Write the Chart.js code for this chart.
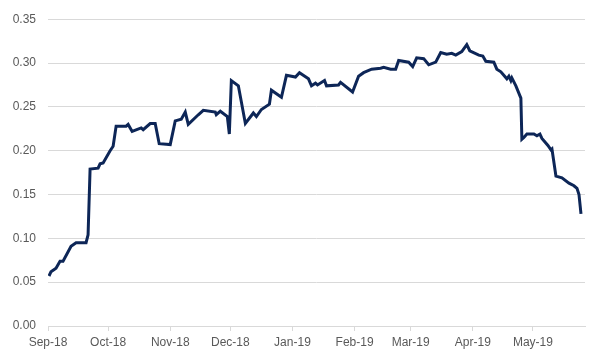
<!DOCTYPE html>
<html>
<head>
<meta charset="utf-8">
<script src="https://cdn.jsdelivr.net/npm/chart.js@4"></script>
<style>
  html, body { margin: 0; padding: 0; background: #fff; }
  #wrap { width: 600px; height: 360px; }
</style>
</head>
<body>
<div id="wrap"><canvas id="chart"></canvas></div>
<script>
// days since 1 Sep 2018
const days = [0.5, 1.5, 4, 6, 7.5, 11.5, 14, 19, 20, 21, 25, 26, 27.5, 31, 32.5, 34, 39, 40, 42, 46.5, 47.5, 51, 53.5, 55.5,
  61, 63.5, 66.5, 68.5, 70, 75, 77.5, 83.5, 84, 86, 89.5, 90.5, 91.5, 95, 98.5, 102.5, 104, 106.5, 110.5, 111.5, 116.5,
  119, 123.5, 125.5, 130, 131.5, 133.5, 134.5, 138, 139, 145, 146, 152, 155, 157.5, 161.5, 166, 167.5, 171, 173.5, 175,
  180, 182, 184, 187.5, 190, 193.5, 196, 199, 201.5, 203.5, 206.5, 209, 210.5, 215, 217, 218.5, 222.5, 224, 226, 229,
  230, 231, 231.5, 233.5, 236, 236.5, 237.5, 239, 242.5, 244, 245.5, 246.5, 249.5, 251, 251.5, 253.5, 256.5, 260, 262.5,
  264, 265, 266];
const values = [0.057, 0.062, 0.066, 0.074, 0.074, 0.091, 0.095, 0.095, 0.104, 0.179, 0.180, 0.185, 0.186, 0.200, 0.205,
  0.228, 0.228, 0.230, 0.222, 0.226, 0.224, 0.231, 0.231, 0.208, 0.207, 0.234, 0.236, 0.244, 0.230, 0.241, 0.246, 0.244,
  0.241, 0.245, 0.239, 0.219, 0.280, 0.274, 0.231, 0.243, 0.239, 0.247, 0.253, 0.269, 0.261, 0.286, 0.284, 0.289, 0.282,
  0.274, 0.277, 0.275, 0.280, 0.274, 0.275, 0.278, 0.267, 0.285, 0.289, 0.293, 0.294, 0.295, 0.293, 0.293, 0.303, 0.301,
  0.296, 0.306, 0.305, 0.298, 0.301, 0.312, 0.310, 0.311, 0.309, 0.313, 0.321, 0.314, 0.309, 0.308, 0.302, 0.301, 0.293,
  0.290, 0.282, 0.285, 0.280, 0.283, 0.274, 0.260, 0.213, 0.215, 0.219, 0.219, 0.217, 0.219, 0.214, 0.206, 0.201, 0.202,
  0.171, 0.169, 0.163, 0.160, 0.157, 0.150, 0.128];

const monthDays = [0, 30, 61, 91, 122, 153, 181, 212, 242];
const monthLabels = ['Sep-18', 'Oct-18', 'Nov-18', 'Dec-18', 'Jan-19', 'Feb-19', 'Mar-19', 'Apr-19', 'May-19'];

const points = days.map((d, i) => ({ x: d, y: values[i] }));

const ctx = document.getElementById('chart').getContext('2d');
const chart = new Chart(ctx, {
  type: 'line',
  data: {
    datasets: [{
      data: points,
      borderColor: '#0d2657',
      borderWidth: 3,
      pointRadius: 0,
      tension: 0,
      fill: false
    }]
  },
  options: {
    responsive: true,
    maintainAspectRatio: false,
    animation: false,
    layout: { padding: { top: 12, right: 15, left: 0, bottom: 0 } },
    plugins: { legend: { display: false }, tooltip: { enabled: false } },
    scales: {
      x: {
        type: 'linear',
        min: 0,
        max: 268,
        afterBuildTicks: (axis) => { axis.ticks = monthDays.map(v => ({ value: v })); },
        afterFit: (axis) => { axis.height = 34; },
        grid: { drawOnChartArea: false, drawTicks: true, tickLength: 5, color: '#d9d9d9' },
        border: { color: '#d9d9d9' },
        ticks: {
          autoSkip: false,
          maxRotation: 0,
          padding: 4,
          color: '#595959',
          font: { family: 'Liberation Sans', size: 12 },
          callback: (v) => monthLabels[monthDays.indexOf(v)]
        }
      },
      y: {
        min: 0,
        max: 0.35,
        afterFit: (axis) => { axis.width = 48; },
        grid: { color: '#d9d9d9', drawTicks: false },
        border: { display: false },
        ticks: {
          stepSize: 0.05,
          padding: 12,
          color: '#595959',
          font: { family: 'Liberation Sans', size: 12 },
          callback: (v) => v.toFixed(2)
        }
      }
    }
  }
});
</script>
</body>
</html>
